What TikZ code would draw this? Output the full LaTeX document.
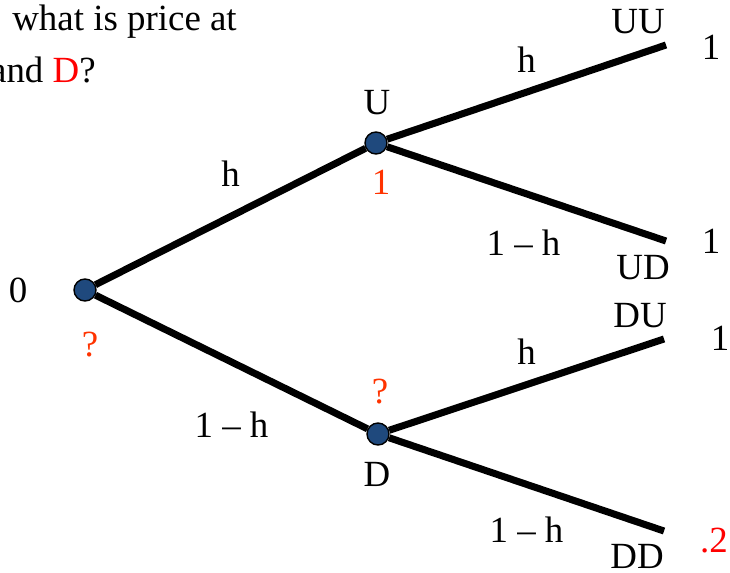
\documentclass[tikz,border=0pt]{standalone}
\usepackage{fontspec}
\setmainfont{Liberation Serif}
\usepackage{xcolor}
\usetikzlibrary{positioning}
\definecolor{nodeblue}{RGB}{31,73,125}
\definecolor{qorange}{RGB}{255,51,0}
\definecolor{valred}{RGB}{255,0,0}

\begin{document}
\begin{tikzpicture}[
    x=0.02cm, y=-0.02cm,
    state/.style={
        circle, draw=black, line width=0.8pt,
        fill=nodeblue, minimum size=0.44cm, inner sep=0pt
    },
    branch/.style={line width=4pt},
    lbl/.style={font=\fontsize{21}{25}\selectfont, inner sep=0pt},
    qlbl/.style={lbl, text=qorange},
    prob/.style={lbl, midway}
]
\useasboundingbox (0,0) rectangle (730,572);
\clip (0,0) rectangle (730,572);

\node[state] (root) at (85,290) {};
\node[state] (u) at (376,143) {};
\node[state] (d) at (378,434) {};
\coordinate (uu) at (666,45);
\coordinate (ud) at (666,241);
\coordinate (du) at (664,339);
\coordinate (dd) at (664,531);

\draw[branch] (root) -- node[prob, yshift=0.86cm]{h} (u);
\draw[branch] (root) -- node[prob, yshift=-1.26cm]{1 -- h} (d);
\draw[branch] (u) -- node[prob, yshift=0.64cm]{h} (uu);
\draw[branch] (u) -- node[prob, yshift=-0.98cm, xshift=-0.06cm]{1 -- h} (ud);
\draw[branch] (d) -- node[prob, yshift=0.65cm]{h} (du);
\draw[branch] (d) -- node[prob, yshift=-0.91cm]{1 -- h} (dd);

% state labels
\node[lbl] at (18,290) {0};
\node[qlbl] at (90,345) {?};
\node[lbl] at (377,103) {U};
\node[qlbl] at (381,182) {1};
\node[qlbl] at (380,392) {?};
\node[lbl] at (377,474) {D};

% leaves
\node[lbl] at (638,22) {UU};
\node[lbl] at (643,268) {UD};
\node[lbl] at (640,316) {DU};
\node[lbl] at (637,556) {DD};
\node[lbl] at (711,47) {1};
\node[lbl] at (711,241) {1};
\node[lbl] at (720,338) {1};
\node[lbl, text=valred] at (714,541) {.2};

% question
\node[lbl, anchor=west] at (12,22) {what is price at};
\node[lbl, anchor=east] at (96,70) {and \textcolor{valred}{D}?};
\end{tikzpicture}
\end{document}
